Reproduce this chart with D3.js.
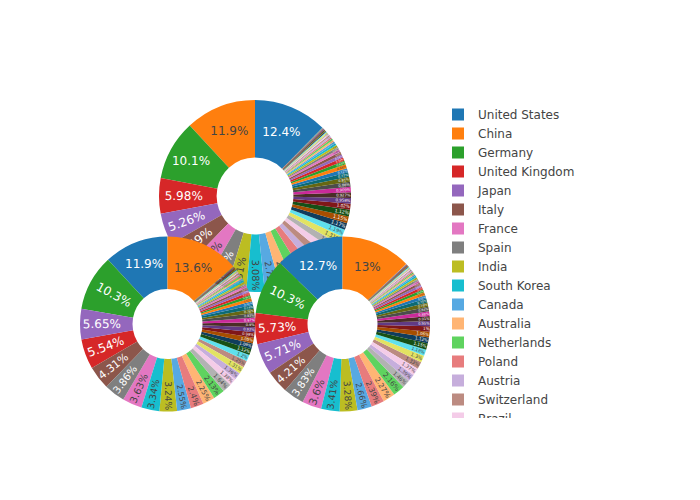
<!DOCTYPE html>
<html lang="en">
<head>
<meta charset="UTF-8">
<title>Country shares</title>
<script src="https://d3js.org/d3.v7.min.js"></script>
<style>
  body { margin: 0; background: #fff; }
  svg text { font-family: "DejaVu Sans", Verdana, sans-serif; }
</style>
</head>
<body>
<svg id="chart" width="700" height="500"></svg>
<script>
// legend order = order of the first pie
const countries = [
  "United States", "China", "Germany", "United Kingdom", "Japan", "Italy", "France", "Spain",
  "India", "South Korea", "Canada", "Australia", "Netherlands", "Poland", "Austria", "Switzerland",
  "Brazil", "Belgium", "Sweden", "Turkey", "Mexico", "Czech Republic", "Russia", "Denmark",
  "Finland", "Taiwan", "Norway", "Israel", "Portugal", "Ireland", "Hungary", "Singapore",
  "Romania", "Greece", "Thailand", "Malaysia", "New Zealand", "South Africa", "Indonesia", "Argentina",
  "Slovakia", "Iran", "Saudi Arabia", "Egypt", "Chile", "Ukraine", "Vietnam", "Pakistan",
  "Philippines", "Colombia", "Slovenia", "Croatia", "Bulgaria", "Serbia", "Lithuania", "Estonia",
  "Luxembourg", "Nigeria", "Peru", "Morocco", "Tunisia", "Latvia", "Kenya", "Bangladesh",
  "Qatar", "United Arab Emirates", "Kazakhstan", "Belarus", "Cyprus", "Iceland", "Sri Lanka", "Ecuador",
  "Uruguay", "Jordan", "Lebanon", "Algeria", "Malta", "Ethiopia", "Ghana", "Venezuela",
  "Cuba", "Georgia", "Armenia", "Costa Rica", "Oman"
];

// top pie
const valuesA = [
  12.4, 11.9, 10.1, 5.98, 5.26, 4.49, 3.95, 3.55, 3.31, 3.08,
  2.72, 2.35, 2.16, 2.02, 1.62, 1.49, 1.41, 1.38, 1.31, 1.19,
  1.17, 1.15, 1.12, 1.02, 0.958, 0.927, 0.909, 0.86, 0.81, 0.77,
  0.72, 0.68, 0.63, 0.58, 0.54, 0.50, 0.46, 0.43, 0.40, 0.37,
  0.34, 0.31, 0.29, 0.27, 0.25, 0.23, 0.21, 0.19, 0.17, 0.16,
  0.15, 0.13, 0.12, 0.11, 0.10, 0.05, 0.04, 0.03, 0.025, 0.02,
  0.012, 0.011, 0.01, 0.009, 0.008, 0.008, 0.007, 0.007, 0.006, 0.006,
  0.005, 0.005, 0.005, 0.004, 0.004, 0.004, 0.003, 0.003, 0.003, 0.002,
  0.002, 0.002, 0.002, 0.001, 0.001
];

// bottom left pie
const valuesB = [
  11.9, 13.6, 10.3, 5.54, 5.65, 4.31, 3.63, 3.86, 3.24, 3.34,
  2.55, 2.25, 2.13, 2.4, 1.36, 1.25, 1.38, 1.64, 1.31, 1.2,
  1.09, 1.05, 1.12, 0.98, 0.93, 0.9, 0.87, 0.83, 0.78, 0.74,
  0.66, 0.62, 0.58, 0.53, 0.49, 0.46, 0.42, 0.39, 0.37, 0.34,
  0.31, 0.28, 0.26, 0.24, 0.23, 0.21, 0.19, 0.17, 0.16, 0.15,
  0.14, 0.12, 0.11, 0.1, 0.09, 0.05, 0.04, 0.03, 0.025, 0.02,
  0.01, 0.009, 0.008, 0.007, 0.007, 0.006, 0.005, 0.005, 0.004, 0.004,
  0.003, 0.003, 0.003, 0.002, 0.002, 0.002, 0.002, 0.001, 0.001, 0.001,
  0.001, 0.001, 0.001, 0.001, 0.001
];

// bottom right pie
const valuesC = [
  12.7, 13, 10.3, 5.73, 5.71, 4.21, 3.6, 3.83, 3.28, 3.41,
  2.66, 2.27, 2.16, 2.39, 1.39, 1.33, 1.37, 1.46, 1.3, 1.18,
  1.12, 1.06, 1.15, 1.0, 0.95, 0.91, 0.88, 0.84, 0.79, 0.75,
  0.62, 0.58, 0.54, 0.5, 0.46, 0.43, 0.4, 0.37, 0.34, 0.32,
  0.29, 0.27, 0.25, 0.23, 0.21, 0.19, 0.18, 0.16, 0.15, 0.14,
  0.12, 0.11, 0.1, 0.09, 0.08, 0.04, 0.03, 0.025, 0.02, 0.015,
  0.003, 0.003, 0.002, 0.002, 0.002, 0.002, 0.001, 0.001, 0.001, 0.001,
  0.001, 0.001, 0.001, 0.001, 0.001, 0.001, 0.001, 0.001, 0.001, 0.001,
  0.001, 0.001, 0.001, 0.001, 0.001
];

const svg = d3.select("#chart");
const hole = 0.4;
const fontSize = 12;

// plot area and pie domains (fractions of the plot area)
const px = d3.scaleLinear().domain([0, 1]).range([80, 430]);
const py = d3.scaleLinear().domain([0, 1]).range([420, 100]);
const pies = [
  { values: valuesA, dx: [0.2, 0.8], dy: [0.4, 1] },
  { values: valuesB, dx: [0, 0.5], dy: [0, 0.6] },
  { values: valuesC, dx: [0.5, 1], dy: [0, 0.6] }
];

// plotly style extended colorway: base, lighter, darker
const base = d3.schemeCategory10;
const shade = (c, k) => { const h = d3.hsl(c); h.l = Math.max(0, Math.min(1, h.l + k)); return h.formatHex(); };
const palette = base.concat(base.map(c => shade(c, 0.2)), base.map(c => shade(c, -0.2)));
const color = d3.scaleOrdinal().domain(countries).range(palette);

function contrast(c) {
  const rgb = d3.rgb(c);
  const bright = (rgb.r * 299 + rgb.g * 587 + rgb.b * 114) / 1000;
  return bright < 128 ? "#fff" : "#444";
}

function fmtPct(f) {
  let s = (f * 100).toPrecision(3);
  if (s.indexOf(".") !== -1) s = s.replace(/[.]?0+$/, "");
  return s + "%";
}

const rotDeg = t => (180 / Math.PI * t + 720) % 180 - 90;

// pick horizontal / radial / tangential placement, like plotly's auto orientation
function fitText(bb, d, r, frac) {
  const ring = 1 - hole;
  const half = Math.PI * Math.min(frac, 0.5);
  const mid = (d.startAngle + d.endAngle) / 2;
  const rIns = Math.min(1 / (1 + 1 / Math.sin(half)), ring / 2);
  const diam = Math.hypot(bb.width, bb.height) * 1.08;
  const hor = { scale: rIns * r * 2 / diam, rCenter: 1 - rIns, rotate: 0 };
  if (hor.scale >= 1) return hor;
  const rr = Math.max(0, r - 6);
  const maxHalf = a => {
    const q = a + 1 / (2 * Math.tan(half));
    return rr * Math.min(1 / (Math.sqrt(q * q + 0.5) + q), ring / (Math.sqrt(a * a + ring / 2) + a));
  };
  const aR = bb.width / bb.height, sR = maxHalf(aR);
  const rad = { scale: sR * 2 / bb.height, rCenter: Math.cos(sR / rr) - aR * sR / rr, rotate: rotDeg(mid) };
  const aT = bb.height / bb.width, sT = maxHalf(aT);
  const tan = { scale: sT * 2 / bb.width, rCenter: Math.cos(sT / rr) - aT * sT / rr, rotate: rotDeg(mid + Math.PI / 2) };
  return [hor, rad, tan].reduce((best, t) => t.scale > best.scale ? t : best);
}

pies.forEach(p => {
  const x0 = px(p.dx[0]), x1 = px(p.dx[1]);
  const y0 = py(p.dy[1]), y1 = py(p.dy[0]);
  const r = Math.min(x1 - x0, y1 - y0) / 2;
  const cx = (x0 + x1) / 2, cy = (y0 + y1) / 2;

  const data = countries.map((c, i) => ({ name: c, value: p.values[i] }));
  const total = d3.sum(data, d => d.value);
  const first = d3.max(data, d => d.value) / total * 2 * Math.PI;

  // counterclockwise, first slice ends at 12 o'clock
  const pie = d3.pie().value(d => d.value).startAngle(first).endAngle(first - 2 * Math.PI);
  const arc = d3.arc().innerRadius(r * hole).outerRadius(r);

  const g = svg.append("g").attr("transform", `translate(${cx},${cy})`);
  const slices = g.selectAll("g.slice").data(pie(data)).join("g").attr("class", "slice");

  slices.append("path")
    .attr("d", arc)
    .attr("fill", d => color(d.data.name));

  slices.append("text")
    .attr("text-anchor", "middle")
    .attr("font-size", fontSize)
    .attr("fill", d => contrast(color(d.data.name)))
    .text(d => fmtPct(d.data.value / total))
    .each(function (d) {
      const bb = this.getBBox();
      const frac = d.data.value / total;
      const t = fitText(bb, d, r, frac);
      const mid = (d.startAngle + d.endAngle) / 2;
      const tx = r * Math.sin(mid) * t.rCenter;
      const ty = -r * Math.cos(mid) * t.rCenter;
      const s = Math.min(1, t.scale);
      d3.select(this).attr("transform",
        `translate(${tx},${ty}) scale(${s}) rotate(${t.rotate}) translate(${-(bb.x + bb.width / 2)},${-(bb.y + bb.height / 2)})`);
    });
});

// legend, clipped like a scrolling plotly legend
svg.append("clipPath").attr("id", "legclip")
  .append("rect").attr("x", 440).attr("y", 100).attr("width", 260).attr("height", 318);

const legend = svg.append("g").attr("clip-path", "url(#legclip)");
const rowY = d3.scaleLinear().domain([0, 1]).range([114.5, 133.5]);

const items = legend.selectAll("g.item").data(countries).join("g")
  .attr("class", "item")
  .attr("transform", (d, i) => `translate(458,${rowY(i)})`);

items.append("rect")
  .attr("x", -6).attr("y", -6).attr("width", 12).attr("height", 12)
  .attr("fill", d => color(d));

items.append("text")
  .attr("x", 20).attr("y", 4.5)
  .attr("font-size", 12)
  .attr("fill", "#444")
  .text(d => d);
</script>
</body>
</html>
